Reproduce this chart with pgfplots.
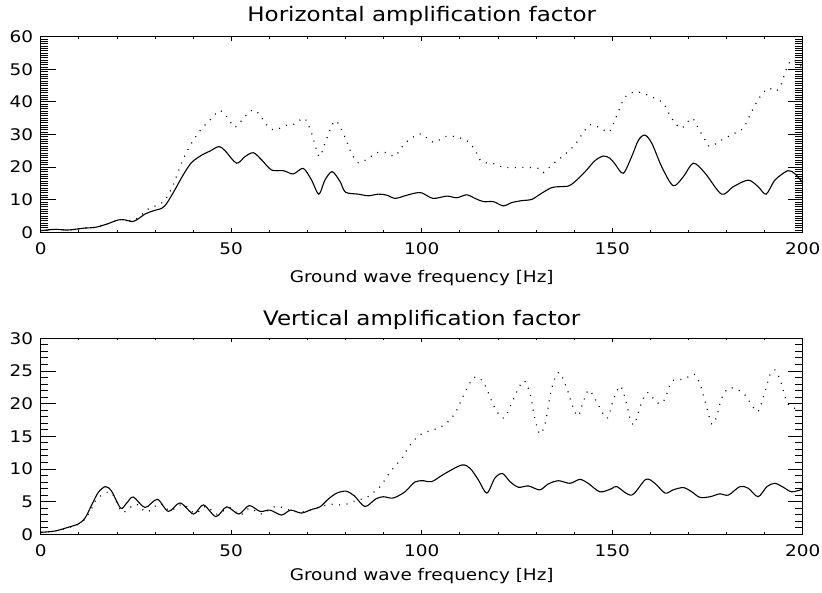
\documentclass[border=0pt]{standalone}
\usepackage{fontspec}
\setmainfont{DejaVu Sans}[FakeStretch=1.15]
\usepackage{pgfplots}
\pgfplotsset{compat=1.18}

\pgfplotstableread{
x y
0 0.5
3.75 0.9
7.2 0.7
11.6 1.3
14.3 1.5
17.3 2.5
20.4 3.8
22.1 3.8
23.9 3.3
25.2 3.8
27.4 5.6
29.6 6.6
31.8 7.4
33.1 8.9
35.2 13.0
37.4 17.6
39.6 21.4
42.3 23.7
44.4 24.9
46.8 26.3
48.4 25.0
51.4 21.2
53.6 23.2
55.8 24.4
58.0 22.2
60.6 19.1
63.7 18.9
66.3 17.9
68.9 19.6
71.1 16.0
73.0 11.7
74.6 16.0
76.5 18.6
78.6 15.5
80.0 12.3
83.4 11.7
86.0 11.2
88.6 11.7
90.8 11.4
93.0 10.4
95.6 11.2
98.2 12.0
100 12.1
103.0 10.4
106.6 11.1
109.2 10.6
111.8 11.5
114.0 10.4
116.2 9.4
118.8 9.4
121.4 8.1
123.6 9.1
126.2 9.7
128.9 10.1
131.5 12.0
134.1 13.7
136.3 14.0
138.5 14.2
140.2 15.5
142.9 18.6
145.5 22.0
147.7 23.4
149.4 22.7
150.7 21.0
152.9 18.1
155.1 23.2
156.9 28.3
158.6 29.8
160.4 27.3
163.0 20.1
166.0 14.3
168.7 17.1
171.3 21.2
174.4 18.1
178.7 11.7
181.8 14.0
185.7 16.0
188.3 14.0
190.4 11.7
192.7 16.0
196.1 18.9
198.0 17.9
200 15.2
}\hsolid

\pgfplotstableread{
x y
0 0.5
3.75 0.9
7.2 0.7
11.6 1.3
14.3 1.5
17.3 2.5
20.4 3.8
22.1 3.8
23.9 3.5
25.2 4.2
27.4 6.3
28.5 7.4
30.9 8.4
32.6 9.9
34.4 13.5
36.1 18.6
37.9 23.7
40.1 28.3
42.3 31.9
44.0 33.9
46.2 36.7
47.3 37.3
49.2 35.0
51.0 32.2
53.6 35.5
56.2 37.5
59.7 32.4
61.5 31.4
64.6 32.9
66.7 33.2
69.2 35.0
71.1 30.4
73.1 23.2
74.6 27.3
77.2 34.2
79.4 30.4
81.6 24.2
83.4 21.3
86.0 22.7
88.2 24.4
90.8 24.4
93.0 23.4
95.6 27.3
98.2 29.5
100 30.2
103.0 27.6
106.6 29.5
109.6 29.1
112.2 27.8
114.0 25.2
115.7 21.7
119.2 21.0
121.4 19.9
124.5 19.9
128.0 19.9
130.6 19.6
131.9 18.3
134.1 20.6
137.1 23.4
139.8 26.3
141.1 28.3
142.9 31.4
144.6 33.1
147.7 31.4
149.4 31.0
151.6 37.0
153.4 41.5
156.0 43.1
158.6 42.4
161.2 41.1
163.4 39.6
165.6 35.0
168.1 31.9
170.9 35.0
172.6 31.9
174.4 28.3
175.7 26.3
178.7 28.3
181.8 30.2
184.4 31.9
186.6 37.0
188.8 41.6
191.0 44.2
192.7 43.3
194.1 44.7
195.8 50.3
197.1 52.9
198.4 52.3
200 50.5
}\hdotted

\pgfplotstableread{
x y
0 0.3
3.75 0.5
7.2 1.07
9.9 1.6
11.6 2.45
13.4 4.5
15.1 6.4
17.0 7.3
18.6 6.6
21.0 4.0
22.6 4.8
24.3 5.7
27.4 4.1
30.6 5.35
33.5 3.5
36.6 4.8
40.1 3.1
42.7 4.5
46.0 2.7
48.8 4.2
52.0 3.1
54.7 4.4
57.6 3.5
60.2 3.7
63.2 2.95
65.6 3.7
68.4 3.25
71.1 3.8
73.3 4.2
75.5 5.4
77.7 6.3
80.1 6.6
82.3 5.9
85.1 4.25
87.9 5.4
89.9 5.75
92.5 5.55
95.6 6.5
98.2 8.0
100.5 8.2
102.6 8.05
106.1 9.3
110.5 10.6
112.7 10.1
114.9 8.3
117.1 6.3
119.2 8.6
121.2 9.3
123.2 8.05
125.4 7.2
128.0 7.4
131.0 6.8
133.2 7.7
135.9 8.2
138.9 7.8
141.5 8.4
143.7 7.8
146.8 6.5
149.9 7.0
151.2 7.3
155.1 6.0
158.8 8.4
161.2 7.8
163.9 6.3
166.0 6.8
168.7 7.15
170.9 6.5
173.0 5.65
175.7 5.75
178.3 6.2
180.5 6.0
183.5 7.3
185.7 7.05
188.3 5.75
190.6 7.3
192.7 7.8
194.9 7.2
197.1 6.5
200 6.9
}\vsolid

\pgfplotstableread{
x y
0 0.3
3.75 0.5
7.2 1.0
9.9 1.5
11.6 2.3
13.4 4.0
14.7 5.4
17.3 6.4
18.8 6.2
21.3 3.4
23.2 4.0
25.2 4.6
27.8 3.4
31.3 4.75
33.9 3.6
37.3 4.6
40.5 3.2
43.4 4.3
46.2 3.1
49.7 4.1
52.3 2.95
54.9 4.0
58.0 3.1
61.7 4.3
65.4 3.7
68.5 3.4
72.4 4.0
75.9 4.6
79.5 4.5
83.0 5.2
85.5 5.6
87.3 6.4
89.1 7.3
91.2 9.1
93.0 10.45
94.8 11.6
96.1 12.9
97.8 14.3
99.1 15.0
100.5 15.55
102.6 15.9
105.2 16.5
107.4 17.5
109.2 19.0
111.4 21.8
113.5 23.9
114.9 24.0
116.6 22.85
118.8 19.8
120.6 18.1
121.9 17.9
124.0 20.6
126.7 23.5
128.4 21.6
129.7 17.75
131.0 15.35
132.4 17.0
134.1 22.3
136.0 24.8
138.1 22.3
139.8 19.3
141.1 18.1
142.4 20.3
143.9 22.1
145.9 20.3
148.6 17.75
150.3 20.6
152.1 22.7
153.4 20.8
154.7 17.75
155.8 16.8
157.3 19.5
159.1 21.7
160.8 20.8
162.5 19.95
163.9 20.8
165.6 23.4
168.2 23.7
170.0 24.1
171.5 24.5
173.0 23.1
174.4 20.3
176.1 16.9
177.4 18.0
178.7 20.8
180.5 22.35
182.7 22.2
184.9 21.3
186.6 19.8
188.3 18.8
190.1 21.8
191.4 24.4
192.7 25.15
194.1 23.6
195.8 20.3
197.5 19.3
199.7 19.5
}\vdotted

\pgfplotsset{
  base/.style={
    scale only axis, width=762pt, xmin=0, xmax=200,
    axis line style={line width=1pt, black},
    tick style={line width=0.8pt, black},
    /pgf/number format/assume math mode=true,
    tick label style={font=\fontsize{16}{16}\selectfont},
  },
  xpart/.style={
    xtick={0,50,100,150,200}, minor x tick num=4,
    major tick length=4pt, minor tick length=2pt,
    ytick=\empty,
    xticklabel style={anchor=north, inner sep=0pt, yshift=-10.4pt},
    xlabel={Ground wave frequency [Hz]},
    xlabel style={at={(axis description cs:0.5,0)}, anchor=base, inner sep=0pt,
      font=\fontsize{16}{16}\selectfont},
    title style={at={(axis description cs:0.5,1)}, anchor=base, inner sep=0pt,
      font=\fontsize{20}{20}\selectfont},
  },
  ypart/.style={
    xtick=\empty,
    major tick length=15pt, minor tick length=7.5pt,
    yticklabel style={anchor=east, inner sep=0pt, xshift=-7.4pt},
  },
  sol/.style={black, line width=1.1pt, smooth},
  dot/.style={black, line width=1.2pt, smooth, dash pattern=on 1pt off 6.5pt},
}

\begin{document}
\begin{tikzpicture}
\useasboundingbox (0,0) rectangle (822pt,593pt);
% Top panel
\begin{axis}[base, xpart, height=195.6pt, ymin=0, ymax=60,
  at={(40.7pt,360.7pt)}, anchor=south west,
  title={Horizontal amplification factor},
  title style={yshift=9pt},
  xlabel style={yshift=-50pt}]
\addplot[sol] table[x=x,y=y] {\hsolid};
\addplot[dot] table[x=x,y=y] {\hdotted};
\end{axis}
\begin{axis}[base, ypart, height=195.6pt, ymin=0, ymax=60,
  at={(40.7pt,360.7pt)}, anchor=south west,
  ytick={0,10,20,30,40,50,60}, minor y tick num=13]
\end{axis}
% Bottom panel
\begin{axis}[base, xpart, height=196pt, ymin=0, ymax=30,
  at={(40.7pt,58.7pt)}, anchor=south west,
  title={Vertical amplification factor},
  title style={yshift=6.5pt},
  xlabel style={yshift=-46pt}]
\addplot[sol] table[x=x,y=y] {\vsolid};
\addplot[dot] table[x=x,y=y] {\vdotted};
\end{axis}
\begin{axis}[base, ypart, height=196pt, ymin=0, ymax=30,
  at={(40.7pt,58.7pt)}, anchor=south west,
  ytick={0,5,10,15,20,25,30}, minor y tick num=4]
\end{axis}
\end{tikzpicture}
\end{document}
